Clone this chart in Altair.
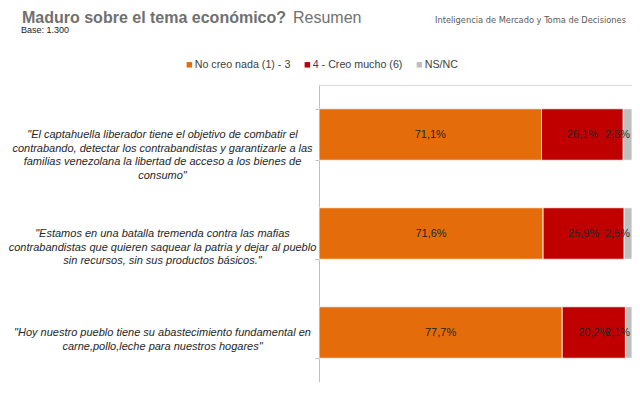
import altair as alt
import pandas as pd

# ---------------- data ----------------
statements = [
    '"El captahuella liberador tiene el objetivo de combatir el|contrabando, detectar los contrabandistas y garantizarle a las|familias venezolana la libertad de acceso a los bienes de|consumo"',
    '"Estamos en una batalla tremenda contra las mafias|contrabandistas que quieren saquear la patria y dejar al pueblo|sin recursos, sin sus productos básicos."',
    '"Hoy nuestro pueblo tiene su abastecimiento fundamental en|carne,pollo,leche para nuestros hogares"',
]
series = ["No creo nada (1) - 3", "4 - Creo mucho (6)", "NS/NC"]
no_creo = [71.1, 71.6, 77.7]
creo_mucho = [26.1, 25.9, 20.2]
nsnc = [2.8, 2.5, 2.1]
colors = ["#E46C0A", "#C00000", "#BFBFBF"]

title_main = ["Maduro sobre el tema económico?"]
title_rest = ["Resumen"]
base_text = ["Base: 1.300"]
logo_text = ["Inteligencia de Mercado y Toma de Decisiones"]

# ---------------- table ----------------
rows = []
for i, st in enumerate(statements):
    vals = [no_creo[i], creo_mucho[i], nsnc[i]]
    start = 0.0
    for j, s in enumerate(series):
        v = vals[j]
        rows.append({
            "statement": st,
            "series": s,
            "order": j,
            "value": v,
            "start": start,
            "end": start + v,
            "mid": start + v / 2,
            "label": f"{v:.1f}".replace(".", ",") + "%",
        })
        start += v
df = pd.DataFrame(rows)

FONT = "Liberation Sans, Arial, sans-serif"

y_enc = alt.Y(
    "statement:N",
    sort=statements,
    scale=alt.Scale(domain=statements, paddingInner=0.48, paddingOuter=0.24),
    axis=alt.Axis(
        title=None,
        labelExpr="split(datum.label, '|')",
        labelAlign="center",
        labelBaseline="middle",
        labelPadding=153,
        labelFont=FONT,
        labelFontStyle="italic",
        labelFontSize=11,
        labelColor="#262626",
        labelLineHeight=13.7,
        labelLimit=400,
        tickBand="extent",
        tickSize=4,
        tickColor="#BFBFBF",
        domainColor="#BFBFBF",
        grid=False,
    ),
)
x_scale = alt.Scale(domain=[0, 100], nice=False, zero=True)

base = alt.Chart(df)

bars = base.mark_bar(stroke="white", strokeWidth=0.8).encode(
    x=alt.X("start:Q", scale=x_scale, axis=None),
    x2="end:Q",
    y=y_enc,
    color=alt.Color(
        "series:N",
        scale=alt.Scale(domain=series, range=colors),
        legend=alt.Legend(
            title=None,
            orient="none",
            legendX=-135,
            legendY=-26,
            direction="horizontal",
            symbolType="square",
            symbolSize=30,
            symbolStrokeWidth=0,
            labelFont=FONT,
            labelFontSize=10.7,
            labelColor="#404040",
            labelOffset=0,
            columnPadding=11,
        ),
    ),
    order="order:Q",
)

mid_labels = base.transform_filter(alt.datum.series != "NS/NC").mark_text(
    font=FONT, fontSize=11, color="#262626", baseline="middle", align="center"
).encode(
    x=alt.X("mid:Q", scale=x_scale),
    y=alt.Y("statement:N", sort=statements),
    text="label:N",
)

end_labels = base.transform_filter(alt.datum.series == "NS/NC").mark_text(
    font=FONT, fontSize=11, color="#262626", baseline="middle", align="right", dx=-2
).encode(
    x=alt.X("end:Q", scale=x_scale),
    y=alt.Y("statement:N", sort=statements),
    text="label:N",
)


def header(txt, x, y, size, weight="normal", color="#707070", font=FONT):
    return alt.Chart(pd.DataFrame({"t": txt})).mark_text(
        font=font, fontSize=size, fontWeight=weight, color=color,
        align="left", baseline="alphabetic",
    ).encode(text="t:N", x=alt.value(x), y=alt.value(y))


h1 = header(title_main, -297, -62, 16, "bold")
h2 = header(title_rest, -26, -62, 16)
h3 = header(base_text, -298, -52, 9, color="#1a1a1a")
h4 = header(logo_text, 116, -62, 9.2, color="#595959",
            font="DejaVu Sans Condensed, Liberation Sans Narrow, sans-serif")

chart = alt.layer(bars, mid_labels, end_labels, h1, h2, h3, h4).properties(
    width=313,
    height=297,
    autosize=alt.AutoSizeParams(type="none"),
    padding={"left": 311, "top": 77, "right": 0, "bottom": 0},
).configure_view(stroke=None).configure(background="white")

chart.save("out.html", embed_options={"renderer": "svg", "actions": False})
